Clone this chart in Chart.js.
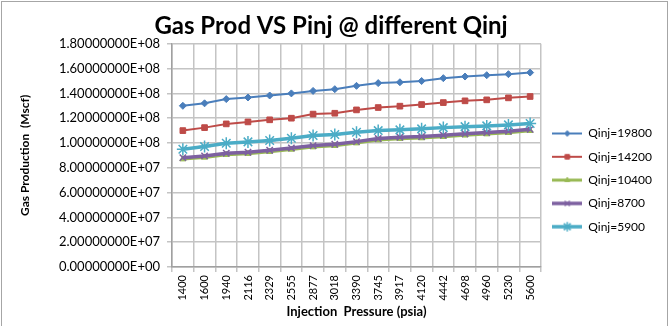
<!DOCTYPE html>
<html>
<head>
<meta charset="utf-8">
<script src="https://cdn.jsdelivr.net/npm/chart.js@4"></script>
<style>
  html, body { margin: 0; padding: 0; background: #fff; }
  #wrap { position: relative; width: 670px; height: 326px; }
  #frame { position: absolute; left: 1px; top: 1px; width: 667px; height: 330px; border: 1px solid #a6a6a6; box-sizing: border-box; pointer-events: none; }
  canvas { display: block; }
</style>
</head>
<body>
<div id="wrap">
  <canvas id="c" width="670" height="326"></canvas>
  <div id="frame"></div>
</div>
<script>
const pressures = ["1400","1600","1940","2116","2329","2555","2877","3018","3390","3745","3917","4120","4442","4698","4960","5230","5600"];
const q19800 = [1.30e8,1.32e8,1.354e8,1.367e8,1.383e8,1.40e8,1.42e8,1.434e8,1.461e8,1.483e8,1.49e8,1.50e8,1.523e8,1.536e8,1.547e8,1.555e8,1.568e8];
const q14200 = [1.10e8,1.124e8,1.154e8,1.17e8,1.187e8,1.20e8,1.233e8,1.24e8,1.267e8,1.286e8,1.297e8,1.31e8,1.326e8,1.34e8,1.348e8,1.364e8,1.375e8];
const q10400 = [0.870e8,0.884e8,0.906e8,0.914e8,0.930e8,0.948e8,0.967e8,0.978e8,0.999e8,1.024e8,1.035e8,1.040e8,1.051e8,1.062e8,1.072e8,1.083e8,1.099e8];
const q8700  = [0.882e8,0.896e8,0.918e8,0.926e8,0.942e8,0.960e8,0.979e8,0.990e8,1.011e8,1.036e8,1.047e8,1.052e8,1.063e8,1.074e8,1.084e8,1.095e8,1.111e8];
const q5900  = [0.95e8,0.971e8,0.998e8,1.009e8,1.02e8,1.039e8,1.06e8,1.068e8,1.087e8,1.10e8,1.106e8,1.114e8,1.124e8,1.132e8,1.138e8,1.146e8,1.157e8];
const seriesNames = ["Qinj=19800","Qinj=14200","Qinj=10400","Qinj=8700","Qinj=5900"];
const seriesData = [q19800, q14200, q10400, q8700, q5900];
const colors = ["#4a7ebb","#be4b48","#98b954","#7d60a0","#4bacc6"];
const markers = ["rectRot","rect","triangle","crossRot","star"];
const markerRadius = [3.5, 4, 3.5, 4.5, 6];
const lineWidths = [2, 2, 3, 3.5, 3.5];
const markerBorder = [1, 1, 1, 1.5, 1.5];

const FONT = "Lato, 'Open Sans', sans-serif";

function legendIcon(i) {
  const cv = document.createElement('canvas');
  cv.width = 30; cv.height = 14;
  const ctx = cv.getContext('2d');
  ctx.strokeStyle = colors[i];
  ctx.lineWidth = lineWidths[i];
  ctx.beginPath(); ctx.moveTo(0, 7); ctx.lineTo(30, 7); ctx.stroke();
  ctx.fillStyle = colors[i];
  ctx.strokeStyle = colors[i];
  ctx.lineWidth = markerBorder[i];
  Chart.helpers.drawPoint(ctx, {pointStyle: markers[i], rotation: 0, radius: markerRadius[i] * 0.8, borderWidth: markerBorder[i]}, 15, 7);
  return cv;
}

const datasets = seriesNames.map((name, i) => ({
  label: name,
  data: seriesData[i],
  borderColor: colors[i],
  backgroundColor: colors[i],
  borderWidth: lineWidths[i],
  pointStyle: markers[i],
  pointRadius: markerRadius[i],
  pointBorderWidth: markerBorder[i],
  pointBackgroundColor: colors[i],
  pointBorderColor: colors[i],
  tension: 0,
  order: 5 - i
}));

function sci(v) {
  if (v === 0) return "0.00000000E+00";
  const e = Math.floor(Math.log10(Math.abs(v)) + 1e-9);
  const m = v / Math.pow(10, e);
  return m.toFixed(8) + "E+" + String(e).padStart(2, "0");
}

new Chart(document.getElementById('c'), {
  type: 'line',
  data: { labels: pressures, datasets },
  options: {
    responsive: false,
    animation: false,
    devicePixelRatio: 1,
    layout: { padding: { left: 0, right: 8, top: 0, bottom: 0 } },
    plugins: {
      tooltip: { enabled: false },
      title: {
        display: true,
        text: "Gas Prod VS Pinj @ different Qinj",
        color: "#000",
        font: { family: FONT, size: 24, weight: 'bold' },
        padding: { top: 12, bottom: 3 }
      },
      legend: {
        position: 'right',
        fullSize: false,
        title: { display: true, text: '', padding: { top: 35, bottom: 0 }, font: { size: 12 } },
        labels: {
          color: "#000",
          font: { family: FONT, size: 12 },
          usePointStyle: true,
          pointStyleWidth: 30,
          padding: 11.3,
          sort: (a, b) => a.datasetIndex - b.datasetIndex,
          generateLabels: (chart) => {
            const items = Chart.defaults.plugins.legend.labels.generateLabels(chart);
            items.forEach(it => { it.pointStyle = legendIcon(it.datasetIndex); });
            return items;
          }
        }
      }
    },
    scales: {
      x: {
        offset: true,
        grid: { offset: true, color: "#c4c4c4", lineWidth: 1.5, tickLength: 5, drawTicks: true },
        border: { color: "#a0a0a0", width: 1.5 },
        ticks: { color: "#000", font: { family: FONT, size: 11 }, minRotation: 90, maxRotation: 90, autoSkip: false, padding: 3 },
        title: { display: true, text: "Injection  Pressure (psia)", color: "#000", font: { family: FONT, size: 13, weight: 'bold' }, padding: { top: 0, bottom: 6.2 } },
        afterFit: (s) => { s.height = 59; }
      },
      y: {
        min: 0, max: 1.8e8,
        grid: { color: "#c4c4c4", lineWidth: 1.5, tickLength: 5 },
        border: { color: "#a0a0a0", width: 1.5 },
        ticks: { stepSize: 2e7, color: "#000", font: { family: FONT, size: 13 }, padding: 7, callback: (v) => sci(v) },
        title: { display: true, text: "Gas Production  (Mscf)", color: "#000", font: { family: FONT, size: 12, weight: 'bold' }, padding: { top: 17.8, bottom: 0 } },
        afterFit: (s) => { s.width = 172; }
      }
    }
  }
});
</script>
</body>
</html>
